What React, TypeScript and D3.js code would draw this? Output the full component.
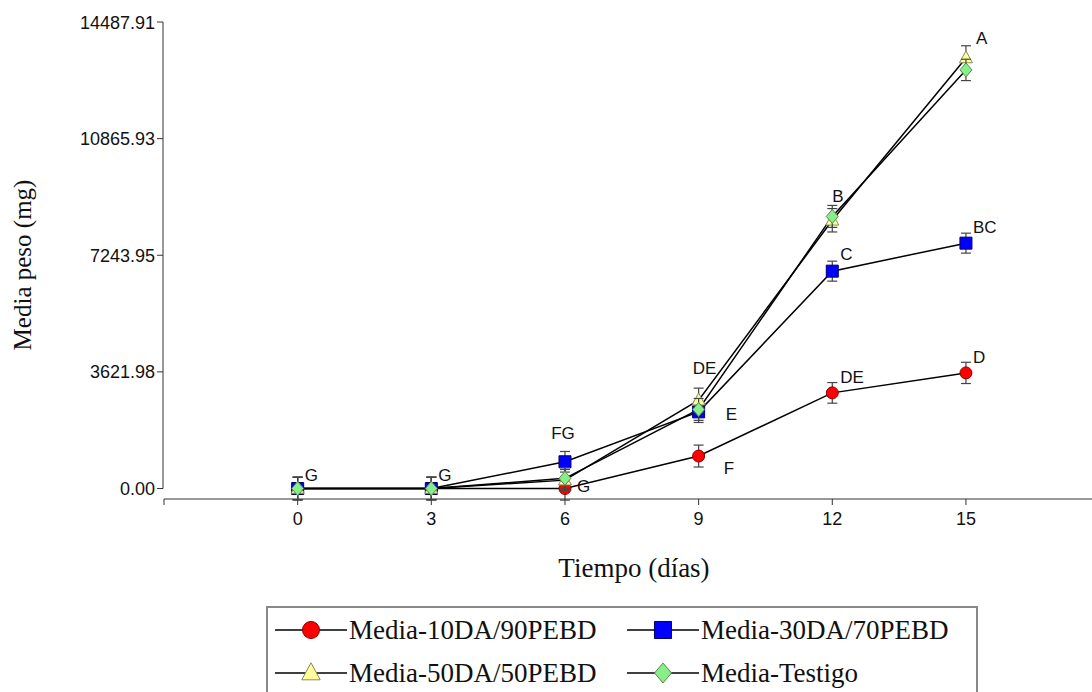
import * as d3 from 'd3'

// días de muestreo
const days = [0, 3, 6, 9, 12, 15]

// medias de peso (mg) y su error
const media10 = [0, 0, 0, 1008, 2970, 3590]
const err10 = [350, 350, 360, 340, 320, 330]
const media30 = [0, 0, 830, 2380, 6750, 7620]
const err30 = [350, 350, 320, 330, 310, 310]
const media50 = [0, 0, 260, 2745, 8330, 13370]
const err50 = [350, 350, 330, 372, 363, 380]
const testigo = [0, 0, 316, 2456, 8450, 13000]
const errTestigo = [350, 350, 330, 340, 341, 332]

const yTicks = [0, 3621.98, 7243.95, 10865.93, 14487.91]
const xTicks = [-3, 0, 3, 6, 9, 12, 15, 18]

const seriesNames = ['Media-10DA/90PEBD', 'Media-30DA/70PEBD', 'Media-50DA/50PEBD', 'Media-Testigo']

// letras de significancia
const letterText = ['G', 'G', 'FG', 'G', 'DE', 'E', 'F', 'B', 'C', 'DE', 'BC', 'D', 'A']
const letterDay = [0, 3, 6, 6, 9, 9, 9, 12, 12, 12, 15, 15, 15]
const letterSeries = [3, 3, 1, 0, 2, 1, 0, 3, 1, 0, 1, 0, 2]

// posición de cada letra respecto a su punto (px)
const letterOffset: [number, number, string][] = [
  [7, -7.5, 'start'], [7, -7.5, 'start'], [-2, -23, 'middle'], [12, 3, 'start'],
  [-6, -26, 'start'], [27, 8, 'start'], [25, 18, 'start'], [0, -14, 'start'],
  [8, -11, 'start'], [8, -9.5, 'start'], [7, -10, 'start'], [7, -10, 'start'], [10, -14, 'start'],
]

const ARIAL = 'Liberation Sans, Arial, sans-serif'
const TIMES = 'Liberation Serif, Times New Roman, serif'

const FILL = ['#ff0000', '#0000ff', '#ffff99', '#88ee88']
const EDGE = ['#8a0000', '#00006a', '#888866', '#558855']

function marker(kind: number, s: number) {
  // s = escala del marcador
  if (kind === 0) return d3.symbol(d3.symbolCircle, Math.PI * (6 * s) ** 2)()
  if (kind === 1) return d3.symbol(d3.symbolSquare, (12 * s) ** 2)()
  if (kind === 2) {
    const w = 6.5 * s
    const h = 12 * s
    return `M0,${-h * 0.6}L${w},${h * 0.4}L${-w},${h * 0.4}Z`
  }
  const w = 6 * s
  const h = 7 * s
  return `M0,${-h}L${w},0L0,${h}L${-w},0Z`
}

export default function App() {
  const width = 1092
  const height = 692

  const x = d3.scaleLinear().domain([-3, 18]).range([164, 1099.6])
  const y = d3.scaleLinear().domain([0, 14487.91]).range([488.5, 22])

  const allValues = [media10, media30, media50, testigo]
  const allErrors = [err10, err30, err50, errTestigo]

  const line = d3.line<number>()
    .x((_, i) => x(days[i]))
    .y(d => y(d))

  const axisY = 163
  const axisX = 499

  return (
    <svg width={width} height={height} style={{position: 'absolute', left: 0, top: 0, background: '#fff'}}>
      {/* eje y */}
      <g stroke={'#333'} strokeWidth={1}>
        <line x1={axisY} x2={axisY} y1={y(yTicks[yTicks.length - 1])} y2={y(0)} />
        {yTicks.map(t => (
          <line key={t} x1={axisY - 6} x2={axisY} y1={y(t)} y2={y(t)} />
        ))}
      </g>
      <g fontFamily={ARIAL} fontSize={18} fill={'#111'} textAnchor={'end'}>
        {yTicks.map(t => (
          <text key={t} x={axisY - 8} y={y(t) + 6.5}>{t.toFixed(2)}</text>
        ))}
      </g>

      {/* eje x */}
      <g stroke={'#333'} strokeWidth={1}>
        <line x1={x(-3)} x2={x(18)} y1={axisX} y2={axisX} />
        {xTicks.map(t => (
          <line key={t} x1={x(t)} x2={x(t)} y1={axisX} y2={axisX + 6} />
        ))}
      </g>
      <g fontFamily={ARIAL} fontSize={18} fill={'#111'} textAnchor={'middle'}>
        {days.map(t => (
          <text key={t} x={x(t)} y={axisX + 26}>{t}</text>
        ))}
      </g>

      {/* títulos */}
      <text
        transform={`translate(30.5, 265) rotate(-90)`}
        textAnchor={'middle'}
        fontFamily={TIMES}
        fontSize={25}
        fill={'#111'}
      >
        Media peso (mg)
      </text>
      <text x={634} y={577} textAnchor={'middle'} fontFamily={TIMES} fontSize={27} fill={'#111'}>
        Tiempo (días)
      </text>

      {/* líneas */}
      {allValues.map((vals, k) => (
        <path key={k} d={line(vals) ?? undefined} fill={'none'} stroke={'#000'} strokeWidth={1.5} />
      ))}

      {/* barras de error y marcadores */}
      {allValues.map((vals, k) => (
        <g key={k}>
          {vals.map((v, i) => {
            const cx = x(days[i])
            const top = y(v + allErrors[k][i])
            const bot = y(v - allErrors[k][i])
            return (
              <g key={i} stroke={'#444'} strokeWidth={1.2}>
                <line x1={cx} x2={cx} y1={top} y2={bot} />
                <line x1={cx - 5} x2={cx + 5} y1={top} y2={top} />
                <line x1={cx - 5} x2={cx + 5} y1={bot} y2={bot} />
              </g>
            )
          })}
          {vals.map((v, i) => (
            <path
              key={'m' + i}
              d={marker(k, 1) ?? undefined}
              transform={`translate(${x(days[i])}, ${y(v)})`}
              fill={FILL[k]}
              stroke={EDGE[k]}
              strokeWidth={1}
            />
          ))}
        </g>
      ))}

      {/* letras */}
      <g fontFamily={ARIAL} fontSize={17} fill={'#111'}>
        {letterText.map((t, i) => {
          const dayIdx = days.indexOf(letterDay[i])
          const v = allValues[letterSeries[i]][dayIdx]
          const [dx, dy, anchor] = letterOffset[i]
          return (
            <text key={i} x={x(letterDay[i]) + dx} y={y(v) + dy} textAnchor={anchor}>{t}</text>
          )
        })}
      </g>

      {/* leyenda */}
      <g>
        <rect x={267} y={607} width={710} height={100} fill={'none'} stroke={'#888'} strokeWidth={2} />
        {seriesNames.map((name, k) => {
          const lx = 275 + (k % 2) * 352
          const ly = k < 2 ? 630 : 673
          return (
            <g key={name}>
              <line x1={lx} x2={lx + 72} y1={ly} y2={ly} stroke={'#000'} strokeWidth={1.5} />
              <path
                d={marker(k, 1.42) ?? undefined}
                transform={`translate(${lx + 36}, ${ly})`}
                fill={FILL[k]}
                stroke={EDGE[k]}
                strokeWidth={1}
              />
              <text x={lx + 74} y={ly + 9} fontFamily={TIMES} fontSize={27} fill={'#111'}>{name}</text>
            </g>
          )
        })}
      </g>
    </svg>
  )
}
